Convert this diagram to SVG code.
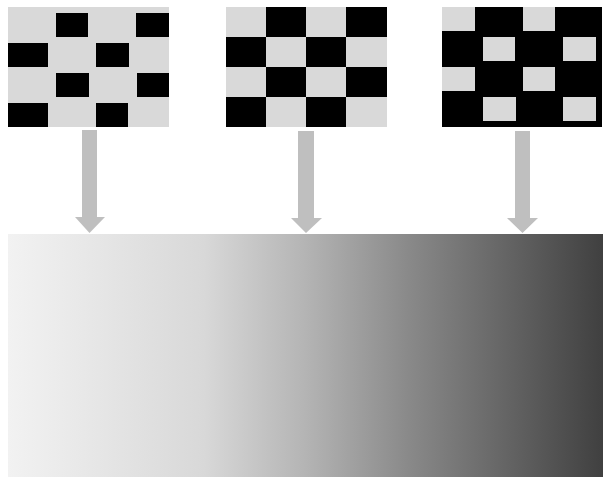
<svg xmlns="http://www.w3.org/2000/svg" width="609" height="486" viewBox="0 0 609 486">
<defs>
<style>
.lt{fill:#d9d9d9}.bk{fill:#000}.ar{fill:#bfbfbf}
</style>
<linearGradient id="g" x1="0" y1="0" x2="1" y2="0">
<stop offset="0" stop-color="#f2f2f2"/>
<stop offset="0.33" stop-color="#d8d8d8"/>
<stop offset="0.5" stop-color="#b4b4b4"/>
<stop offset="0.67" stop-color="#8a8a8a"/>
<stop offset="1" stop-color="#404040"/>
</linearGradient>
</defs>
<rect width="609" height="486" fill="#fff"/>
<g id="pattern1">
<rect class="lt" x="8" y="7" width="161" height="120"/>
<rect class="bk" x="56" y="13" width="32" height="24"/>
<rect class="bk" x="136" y="13" width="33" height="24"/>
<rect class="bk" x="8" y="43" width="40" height="24"/>
<rect class="bk" x="96" y="43" width="33" height="24"/>
<rect class="bk" x="56" y="73" width="33" height="24"/>
<rect class="bk" x="137" y="73" width="32" height="24"/>
<rect class="bk" x="8" y="103" width="40" height="24"/>
<rect class="bk" x="96" y="103" width="32" height="24"/>
</g>
<g id="pattern2">
<rect class="lt" x="226" y="7" width="161" height="120"/>
<rect class="bk" x="266" y="7" width="40" height="30"/>
<rect class="bk" x="346" y="7" width="41" height="30"/>
<rect class="bk" x="226" y="37" width="40" height="30"/>
<rect class="bk" x="306" y="37" width="40" height="30"/>
<rect class="bk" x="266" y="67" width="40" height="30"/>
<rect class="bk" x="346" y="67" width="41" height="30"/>
<rect class="bk" x="226" y="97" width="40" height="30"/>
<rect class="bk" x="306" y="97" width="40" height="30"/>
</g>
<g id="pattern3">
<rect class="bk" x="442" y="7" width="160" height="120"/>
<rect class="lt" x="442" y="7" width="33" height="24"/>
<rect class="lt" x="523" y="7" width="32" height="24"/>
<rect class="lt" x="483" y="37" width="32" height="24"/>
<rect class="lt" x="563" y="37" width="33" height="24"/>
<rect class="lt" x="442" y="67" width="33" height="24"/>
<rect class="lt" x="523" y="67" width="32" height="24"/>
<rect class="lt" x="483" y="97" width="33" height="24"/>
<rect class="lt" x="563" y="97" width="33" height="24"/>
</g>
<g id="gradient">
<rect x="8" y="234" width="595" height="243" fill="url(#g)"/>
</g>
<g id="connectors">
<polygon class="ar" points="82,130 97,130 97,217 105,217 89.5,233 75,217 82,217"/>
<polygon class="ar" points="298,131 314,131 314,218 322,218 306,233 291,218 298,218"/>
<polygon class="ar" points="515,131 530,131 530,218 538,218 522.5,233 507,218 515,218"/>
</g>
</svg>
